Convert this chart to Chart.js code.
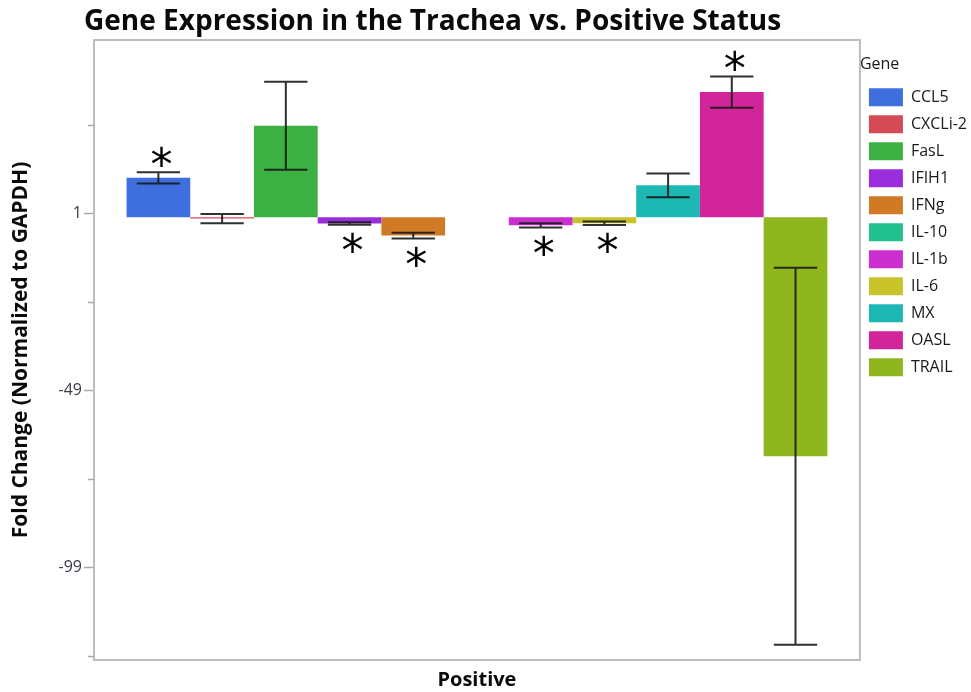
<!DOCTYPE html>
<html>
<head>
<meta charset="utf-8">
<script src="https://cdn.jsdelivr.net/npm/chart.js@4/dist/chart.umd.min.js"></script>
<style>
  html, body { margin: 0; padding: 0; background: #ffffff; }
  #wrap { width: 971px; height: 692px; }
</style>
</head>
<body>
<div id="wrap"><canvas id="chart" width="971" height="692"></canvas></div>
<script>
// Fold change of each gene (normalized to GAPDH), Positive group
const categories = ['Positive'];
const genes = ['CCL5', 'CXCLi-2', 'FasL', 'IFIH1', 'IFNg', 'IL-10', 'IL-1b', 'IL-6', 'MX', 'OASL', 'TRAIL'];
const foldChange = [11.1, -0.4, 25.8, -1.8, -5.2, null, -2.3, -1.7, 9.0, 35.3, -67.5];
const errorSize = [1.6, 1.3, 12.4, 0.35, 0.8, null, 0.6, 0.5, 3.35, 4.4, 53.2];
const significant = [true, false, false, true, true, false, true, true, false, true, false];
const geneColors = ['#3f6fde', '#d44a57', '#3cb043', '#9a2edc', '#d07a26', '#22c08f',
                    '#cc2ecf', '#c8c32a', '#1eb8b4', '#d3259a', '#8fb61f'];
const majorTicks = [1, -49, -99];
const minorTicks = [26, -24, -74, -124];

const datasets = genes.map((g, i) => ({
  label: g,
  data: [foldChange[i]],
  err: errorSize[i],
  sig: significant[i],
  backgroundColor: geneColors[i],
  borderWidth: 0,
  categoryPercentage: 0.915,
  barPercentage: 1.0
}));

// Plot frame, short minor tick marks and the chart heading
const framePlugin = {
  id: 'frame',
  beforeDraw(chart) {
    const { ctx } = chart;
    ctx.save();
    ctx.fillStyle = '#ffffff';
    ctx.fillRect(0, 0, chart.width, chart.height);
    ctx.restore();
  },
  afterDraw(chart) {
    const { ctx, chartArea: a, scales: { y } } = chart;
    ctx.save();
    ctx.strokeStyle = '#bdbdbd';
    ctx.lineWidth = 2;
    ctx.strokeRect(a.left, a.top, a.right - a.left, a.bottom - a.top);
    ctx.lineWidth = 1.5;
    ctx.strokeStyle = '#a8a8a8';
    minorTicks.forEach(v => {
      const py = Math.round(y.getPixelForValue(v)) + 0.5;
      ctx.beginPath();
      ctx.moveTo(a.left - 6, py);
      ctx.lineTo(a.left, py);
      ctx.stroke();
    });
    ctx.fillStyle = '#0a0a0a';
    ctx.font = 'bold 28px "Open Sans", sans-serif';
    ctx.textAlign = 'left';
    ctx.textBaseline = 'alphabetic';
    ctx.fillText('Gene Expression in the Trachea vs. Positive Status', 84, 30);
    ctx.restore();
  }
};

// Error bars and significance stars drawn from the data
const errorBarPlugin = {
  id: 'errorBars',
  afterDatasetsDraw(chart) {
    const { ctx, scales: { y } } = chart;
    ctx.save();
    chart.data.datasets.forEach((ds, i) => {
      const v = ds.data[0];
      if (v == null || ds.err == null) return;
      const bar = chart.getDatasetMeta(i).data[0];
      const x = bar.x;
      const half = bar.width * 0.34;
      const yHi = y.getPixelForValue(v + ds.err);
      const yLo = y.getPixelForValue(v - ds.err);
      ctx.strokeStyle = 'rgba(25,25,25,0.9)';
      ctx.lineWidth = 2;
      ctx.beginPath();
      ctx.moveTo(x, yHi); ctx.lineTo(x, yLo);
      ctx.moveTo(x - half, yHi); ctx.lineTo(x + half, yHi);
      ctx.moveTo(x - half, yLo); ctx.lineTo(x + half, yLo);
      ctx.stroke();
      if (ds.sig) {
        ctx.font = '44px "DejaVu Sans", sans-serif';
        ctx.fillStyle = '#000000';
        ctx.textAlign = 'center';
        ctx.textBaseline = 'alphabetic';
        const m = ctx.measureText('*');
        const gh = m.actualBoundingBoxAscent + m.actualBoundingBoxDescent;
        const cy = v >= 0 ? yHi - 16 : yLo + 18;
        ctx.fillText('*', x + 3, cy - gh / 2 + m.actualBoundingBoxAscent);
      }
    });
    ctx.restore();
  }
};

new Chart(document.getElementById('chart'), {
  type: 'bar',
  data: { labels: categories, datasets },
  plugins: [framePlugin, errorBarPlugin],
  options: {
    responsive: false,
    animation: false,
    devicePixelRatio: 1,
    layout: { padding: { top: 40, left: 8, right: -6, bottom: 0 } },
    plugins: {
      title: { display: false },
      tooltip: { enabled: false },
      legend: {
        position: 'right',
        align: 'start',
        title: {
          display: true,
          position: 'start',
          text: 'Gene',
          color: '#1a1a1a',
          font: { family: '"Open Sans", sans-serif', size: 16 },
          padding: { top: 16, bottom: 4 }
        },
        labels: {
          boxWidth: 34,
          boxHeight: 18,
          padding: 9,
          color: '#1a1a1a',
          font: { family: '"Open Sans", sans-serif', size: 16 }
        }
      }
    },
    scales: {
      x: {
        afterFit: (scale) => { scale.height = 32; },
        grid: { display: false },
        border: { display: false },
        ticks: {
          color: '#0a0a0a',
          padding: 0,
          font: { family: '"Open Sans", sans-serif', size: 20, weight: 'bold' }
        }
      },
      y: {
        min: -125,
        max: 50,
        afterBuildTicks: (scale) => {
          scale.ticks = majorTicks.map(v => ({ value: v }));
        },
        afterFit: (scale) => { scale.width = 86; },
        border: { display: false },
        grid: {
          drawOnChartArea: false,
          drawTicks: true,
          tickLength: 10,
          tickColor: '#a8a8a8',
          tickWidth: 1.5
        },
        ticks: {
          color: '#3a3a4a',
          padding: 2,
          font: { family: '"Open Sans", sans-serif', size: 16 },
          callback: (v) => String(v)
        },
        title: {
          display: true,
          text: 'Fold Change (Normalized to GAPDH)',
          color: '#0a0a0a',
          font: { family: '"Open Sans", sans-serif', size: 21, weight: 'bold' },
          padding: { top: 0, bottom: 0 }
        }
      }
    }
  }
});
</script>
</body>
</html>
